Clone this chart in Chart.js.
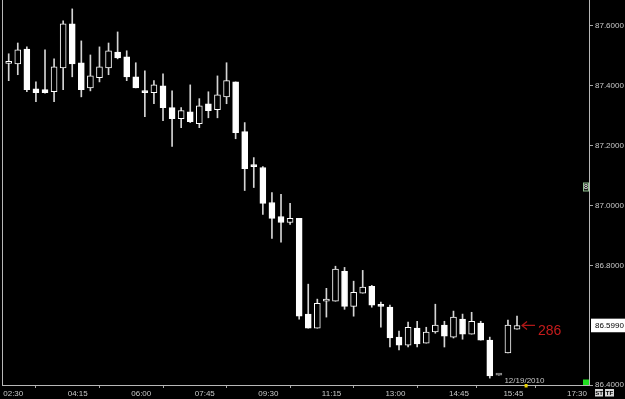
<!DOCTYPE html>
<html><head><meta charset="utf-8">
<script src="https://cdn.jsdelivr.net/npm/chart.js@4.4.0/dist/chart.umd.min.js"></script>
<style>html,body{margin:0;padding:0;background:#000;overflow:hidden}#wrap{width:625px;height:399px;position:relative;background:#000}</style>
</head><body><div id="wrap"><canvas id="c"></canvas></div>
<script>
// 15-minute candles, one per slot (slot 54 is the session-gap marker)
const opens  = [87.475,87.473,87.523,87.390,87.387,87.380,87.460,87.607,87.477,87.393,87.427,87.460,87.513,87.497,87.430,87.383,87.377,87.400,87.327,87.290,87.313,87.273,87.340,87.320,87.363,87.413,87.247,87.130,87.127,87.010,86.963,86.943,86.957,86.637,86.590,86.680,86.680,86.780,86.663,86.707,86.730,86.667,86.660,86.560,86.533,86.590,86.540,86.577,86.600,86.560,86.620,86.570,86.607,86.550,86.433,86.507,86.587];
const highs  = [87.507,87.543,87.530,87.413,87.520,87.490,87.617,87.657,87.550,87.503,87.530,87.543,87.580,87.517,87.477,87.450,87.417,87.440,87.383,87.327,87.403,87.357,87.380,87.433,87.477,87.413,87.277,87.160,87.130,87.043,87.037,87.007,86.957,86.737,86.687,86.723,86.797,86.793,86.747,86.783,86.733,86.677,86.667,86.580,86.610,86.613,86.593,86.670,86.613,86.647,86.637,86.643,86.613,86.560,86.433,86.617,86.630];
const lows   = [87.417,87.437,87.380,87.347,87.375,87.347,87.387,87.430,87.363,87.383,87.413,87.437,87.490,87.417,87.393,87.297,87.340,87.283,87.197,87.260,87.277,87.260,87.293,87.293,87.340,87.223,87.050,87.060,86.970,86.890,86.877,86.937,86.620,86.590,86.590,86.627,86.680,86.653,86.630,86.707,86.660,86.593,86.527,86.517,86.527,86.527,86.540,86.573,86.527,86.557,86.553,86.570,86.550,86.423,86.433,86.507,86.587];
const closes = [87.477,87.520,87.387,87.377,87.377,87.463,87.607,87.473,87.387,87.433,87.463,87.517,87.493,87.430,87.393,87.377,87.403,87.327,87.290,87.317,87.280,87.333,87.317,87.370,87.417,87.243,87.123,87.130,87.007,86.957,86.943,86.957,86.630,86.590,86.673,86.687,86.787,86.663,86.710,86.727,86.667,86.663,86.557,86.533,86.593,86.537,86.577,86.600,86.563,86.627,86.570,86.613,86.550,86.430,86.433,86.600,86.599];
const gapSlot = 54;
const timeLabels = ['02:30','04:15','06:00','07:45','09:30','11:15','13:00','14:45','15:45','17:30'];
const tickSlots  = [-0.6, 6.5, 13.5, 20.5, 27.5, 34.5, 41.5, 48.5, 54.5, 61.5];
const priceTicks = [86.4, 86.599, 86.8, 87.0, 87.2, 87.4, 87.6];
const lastPrice = 86.599;
const sessionDate = '12/19/2010';
const tickCount = '286';
const nowSlot = 57;

const FONT = '"Liberation Sans",Arial,sans-serif';
const slots = opens.map((_, i) => i);
const bodyData = slots.map(i => ({x: i, y: [opens[i], closes[i]]}));
const wickData = slots.map(i => ({x: i, y: [lows[i], highs[i]]}));
const isUp = i => closes[i] > opens[i];
const noPad = s => { s.paddingTop = 0; s.paddingBottom = 0; s.paddingLeft = 0; s.paddingRight = 0; };

const extras = {
  id: 'extras',
  afterDraw(chart) {
    const {ctx, chartArea: a} = chart;
    const x = chart.scales.x, y = chart.scales.y;
    const n = closes.length - 1;
    const lx = x.getPixelForValue(n), ly = y.getPixelForValue(closes[n]);
    ctx.save();
    // arrow + tick count
    ctx.strokeStyle = '#b01818'; ctx.lineWidth = 1.2;
    ctx.beginPath();
    ctx.moveTo(lx + 5, ly); ctx.lineTo(lx + 18, ly);
    ctx.moveTo(lx + 10, ly - 4); ctx.lineTo(lx + 5, ly); ctx.lineTo(lx + 10, ly + 4);
    ctx.stroke();
    ctx.fillStyle = '#c41c1c'; ctx.font = '14px "Liberation Sans",Arial,sans-serif';
    ctx.textAlign = 'left'; ctx.textBaseline = 'middle';
    ctx.fillText(tickCount, lx + 21, ly + 5.5);
    // session date
    const dx = x.getPixelForValue(tickSlots[8]);
    ctx.fillStyle = '#c8c8c8'; ctx.font = '8px ' + FONT;
    ctx.fillText(sessionDate, dx + 1, a.bottom - 4.5);
    // yellow now marker
    const nx = x.getPixelForValue(nowSlot);
    ctx.fillStyle = '#e8d200';
    ctx.fillRect(nx - 1.5, a.bottom - 1, 3, 3.5);
    // green square
    ctx.fillStyle = '#22e022';
    ctx.fillRect(a.right - 6, a.bottom - 5.5, 6, 5.5);
    // ST / TF buttons
    ctx.fillStyle = '#d8d8d8';
    ctx.fillRect(a.right + 6, a.bottom + 4, 8, 7.5);
    ctx.fillRect(a.right + 16, a.bottom + 4, 9, 7.5);
    ctx.fillStyle = '#000'; ctx.font = 'bold 6px "Liberation Sans",Arial,sans-serif';
    ctx.textAlign = 'center';
    ctx.fillText('ST', a.right + 10, a.bottom + 8);
    ctx.fillText('TF', a.right + 20.5, a.bottom + 8);
    // small icon on axis
    ctx.fillStyle = '#1a1a1a'; ctx.strokeStyle = '#8fc08f'; ctx.lineWidth = 1;
    ctx.fillRect(a.right - 5.5, a.top + 183, 5, 8);
    ctx.strokeRect(a.right - 5.5, a.top + 183, 5, 8);
    ctx.fillStyle = '#ffffff'; ctx.font = '7px "Liberation Sans",Arial,sans-serif';
    ctx.fillText('8', a.right - 3, a.top + 187.5);
    ctx.restore();
  }
};

new Chart(document.getElementById('c'), {
  type: 'bar',
  data: {
    datasets: [
      { label: 'body', data: bodyData, order: 0, grouped: false, barThickness: 6, minBarLength: 2,
        xAxisID: 'x', yAxisID: 'y',
        backgroundColor: c => c.dataIndex === gapSlot ? '#8a8a8a' : (isUp(c.dataIndex) ? '#000000' : '#ffffff'),
        borderColor: c => c.dataIndex === gapSlot ? '#8a8a8a' : '#ffffff',
        borderWidth: 1, borderSkipped: false },
      { label: 'wick', data: wickData, order: 1, grouped: false, barThickness: 1,
        xAxisID: 'x', yAxisID: 'y',
        backgroundColor: '#d4d4d4', borderWidth: 0 }
    ]
  },
  options: {
    responsive: true, maintainAspectRatio: false, animation: false, devicePixelRatio: 1,
    layout: { padding: 0 },
    plugins: { legend: { display: false }, tooltip: { enabled: false } },
    scales: {
      x: {
        type: 'linear', position: 'bottom', min: -0.738, max: 63.93, offset: false,
        afterBuildTicks: s => { s.ticks = tickSlots.map(v => ({value: v})); },
        afterFit: s => { s.height = 14; noPad(s); },
        ticks: { autoSkip: false, maxRotation: 0, minRotation: 0, align: 'start', padding: 1,
          color: '#c8c8c8', font: { family: FONT, size: 8 },
          callback: (v, i) => timeLabels[i] },
        grid: { display: true, drawOnChartArea: false, drawTicks: true, tickLength: 3, color: '#a8a8a8' },
        border: { display: true, color: '#b8b8b8', width: 1 }
      },
      y: {
        type: 'linear', position: 'right', min: 86.4, max: 87.6867,
        afterBuildTicks: s => { s.ticks = priceTicks.map(v => ({value: v})); },
        afterFit: s => { s.width = 36; noPad(s); },
        ticks: { autoSkip: false, padding: 2, font: { family: FONT, size: 8 },
          callback: v => Number(v).toFixed(4),
          showLabelBackdrop: true,
          backdropColor: c => (c.tick && c.tick.value === lastPrice) ? '#ffffff' : 'rgba(0,0,0,0)',
          backdropPadding: { top: 2, bottom: 2, left: 4, right: 8 },
          color: c => (c.tick && c.tick.value === lastPrice) ? '#000000' : '#c8c8c8' },
        grid: { display: true, drawOnChartArea: false, drawTicks: true, tickLength: 4,
          color: c => (c.tick && c.tick.value === lastPrice) ? 'rgba(0,0,0,0)' : '#a8a8a8' },
        border: { display: true, color: '#b8b8b8', width: 1 }
      },
      yL: {
        type: 'linear', position: 'left', min: 86.4, max: 87.6867,
        afterFit: s => { s.width = 2; noPad(s); },
        ticks: { display: false },
        grid: { display: false, drawTicks: false },
        border: { display: true, color: '#b8b8b8', width: 1 }
      }
    }
  },
  plugins: [extras]
});
</script>
</body></html>
